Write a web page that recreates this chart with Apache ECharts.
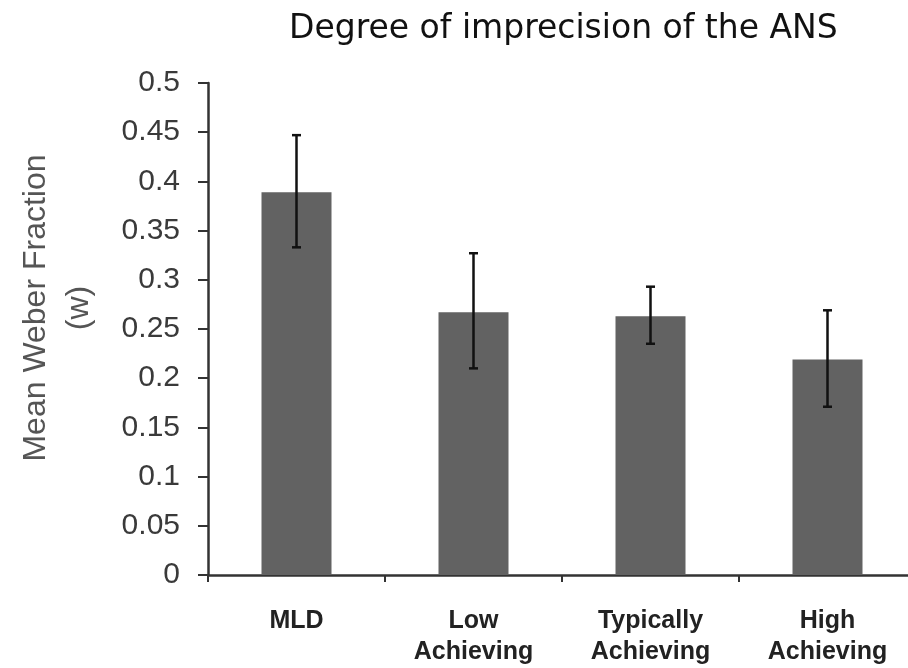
<!DOCTYPE html>
<html>
<head>
<meta charset="utf-8">
<script src="https://cdn.jsdelivr.net/npm/echarts@6/dist/echarts.min.js"></script>
<style>
html,body{margin:0;padding:0;background:#fff;overflow:hidden;}
#chart{width:916px;height:668px;}
</style>
</head>
<body>
<div id="chart"></div>
<script>
const categories = ["MLD", "Low\nAchieving", "Typically\nAchieving", "High\nAchieving"];
const meanValues = [0.389, 0.267, 0.263, 0.219];
const errLow = [0.333, 0.210, 0.235, 0.171];
const errHigh = [0.447, 0.327, 0.293, 0.269];
const titleText = "Degree of imprecision of the ANS";
const yAxisTitle = "Mean Weber Fraction\n(w)";

const errData = categories.map((c, i) => [i, errLow[i], errHigh[i]]);

const chart = echarts.init(document.getElementById('chart'), null, {renderer: 'canvas'});
chart.setOption({
  animation: false,
  backgroundColor: '#ffffff',
  title: {
    text: titleText,
    left: 284,
    top: 8,
    textStyle: {fontFamily: 'DejaVu Sans', fontWeight: 'normal', fontSize: 33, color: '#111'}
  },
  grid: {left: 208, top: 83, right: 0, height: 492, containLabel: false},
  xAxis: {
    type: 'category',
    data: categories,
    axisLine: {lineStyle: {color: '#333', width: 2.5}},
    axisTick: {show: true, length: 7, lineStyle: {color: '#333', width: 2}},
    axisLabel: {
      margin: 31,
      fontFamily: 'Liberation Sans',
      fontWeight: 'bold',
      fontSize: 25,
      lineHeight: 31,
      color: '#222'
    }
  },
  yAxis: {
    type: 'value',
    min: 0,
    max: 0.5,
    interval: 0.05,
    splitLine: {show: false},
    axisLine: {show: true, lineStyle: {color: '#333', width: 2.5}},
    axisTick: {show: true, length: 10, lineStyle: {color: '#333', width: 2}},
    axisLabel: {
      margin: 28,
      fontFamily: 'Liberation Sans',
      fontSize: 30,
      color: '#3a3a3a'
    }
  },
  graphic: [{
    type: 'text',
    x: 58,
    y: 308,
    rotation: Math.PI / 2,
    style: {
      text: yAxisTitle,
      fontFamily: 'Liberation Sans',
      fontSize: 32,
      lineHeight: 43,
      fill: '#555',
      align: 'center',
      verticalAlign: 'middle'
    }
  }],
  series: [
    {
      type: 'bar',
      data: meanValues,
      barWidth: 70,
      itemStyle: {color: '#626262'}
    },
    {
      type: 'custom',
      data: errData,
      encode: {x: 0, y: [1, 2]},
      z: 10,
      renderItem: function (params, api) {
        const idx = api.value(0);
        const lo = api.coord([idx, api.value(1)]);
        const hi = api.coord([idx, api.value(2)]);
        const half = 4.5;
        const st = {stroke: '#111', lineWidth: 2.5};
        return {
          type: 'group',
          children: [
            {type: 'line', shape: {x1: lo[0], y1: lo[1], x2: hi[0], y2: hi[1]}, style: st},
            {type: 'line', shape: {x1: hi[0] - half, y1: hi[1], x2: hi[0] + half, y2: hi[1]}, style: st},
            {type: 'line', shape: {x1: lo[0] - half, y1: lo[1], x2: lo[0] + half, y2: lo[1]}, style: st}
          ]
        };
      }
    }
  ]
});
</script>
</body>
</html>
